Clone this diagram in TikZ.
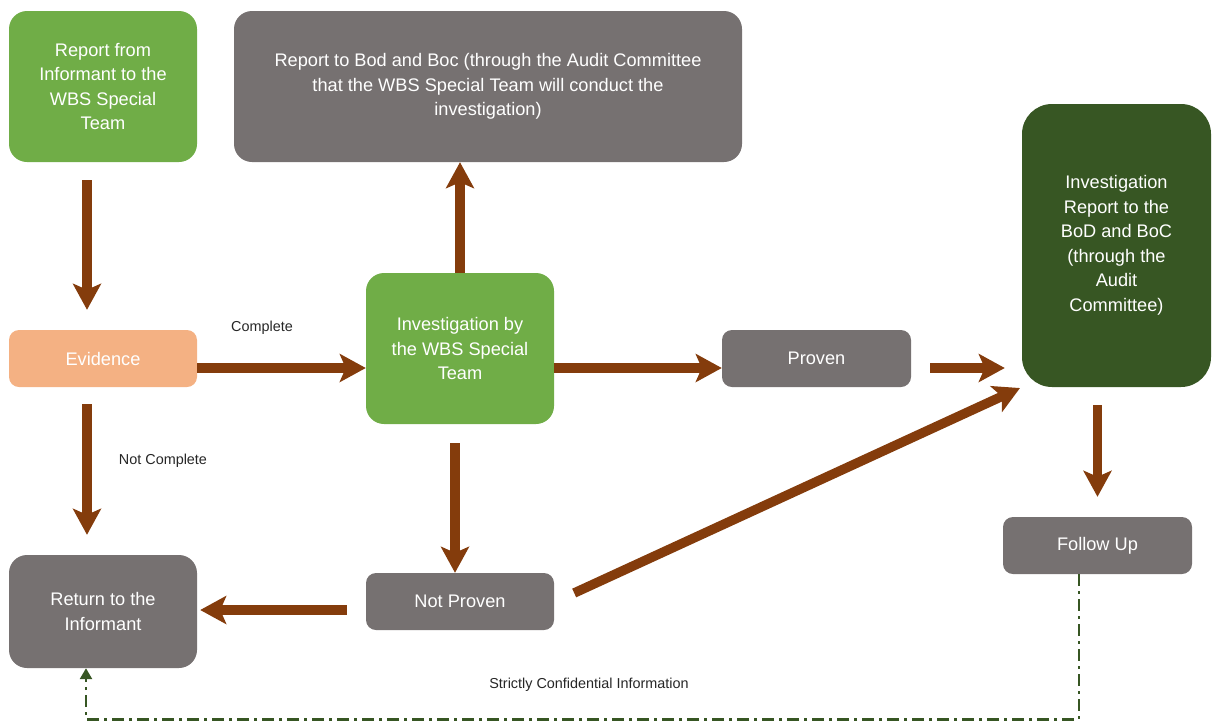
\documentclass[tikz,border=0pt]{standalone}
\usepackage{fontspec}
\setmainfont{Liberation Sans}
\usetikzlibrary{arrows.meta}
\definecolor{lgreen}{HTML}{70AD47}
\definecolor{dgreen}{HTML}{375623}
\definecolor{boxgray}{HTML}{767171}
\definecolor{peach}{HTML}{F4B183}
\definecolor{brown}{HTML}{843C0C}
\definecolor{lbl}{HTML}{262626}
\begin{document}
\begin{tikzpicture}[x=1pt,y=-1pt,
  box/.style={rectangle, rounded corners=18pt, text=white, align=center, inner sep=0pt,
    font=\fontsize{18.2}{24.5}\selectfont},
  sbox/.style={box, rounded corners=10pt},
  flow/.style={draw=brown, line width=9.5pt, -{Stealth[width=28pt,length=26pt,inset=6pt]}},
  conf/.style={draw=dgreen, line width=2.6pt, dash pattern=on 12pt off 5pt on 3pt off 5pt,
    -{Triangle[width=12pt,length=11pt]}},
  lab/.style={text=lbl, font=\fontsize{14.4}{16}\selectfont}]
\useasboundingbox (0,0) rectangle (1213,724);
% nodes
\node[box, fill=lgreen, minimum width=188pt, minimum height=151pt] (rep) at (103,86.5)
  {Report from\\Informant to the\\WBS Special\\Team};
\node[box, fill=boxgray, minimum width=508pt, minimum height=151pt] (bod) at (488,86.5)
  {Report to Bod and Boc (through the Audit Committee\\that the WBS Special Team will conduct the\\investigation)};
\node[sbox, fill=peach, minimum width=188pt, minimum height=57pt] (ev) at (103,358.5) {Evidence};
\node[box, fill=lgreen, minimum width=188pt, minimum height=151pt] (inv) at (460,348.5)
  {Investigation by\\the WBS Special\\Team};
\node[sbox, fill=boxgray, minimum width=189pt, minimum height=57pt] (pro) at (816.5,358.5) {Proven};
\node[box, rounded corners=30pt, fill=dgreen, minimum width=189pt, minimum height=283pt] (ir) at (1116.5,245.5)
  {Investigation\\Report to the\\BoD and BoC\\(through the\\Audit\\Committee)};
\node[sbox, fill=boxgray, minimum width=189pt, minimum height=57pt] (fu) at (1097.5,545.5) {Follow Up};
\node[sbox, fill=boxgray, minimum width=188pt, minimum height=57pt] (np) at (460,601.5) {Not Proven};
\node[box, fill=boxgray, minimum width=188pt, minimum height=113pt] (ret) at (103,611.5)
  {Return to the\\Informant};
% labels
\node[lab] (lc) at (262,328) {Complete};
\node[lab] (lnc) at (163,461) {Not Complete};
\node[lab] (lsc) at (589,685) {Strictly Confidential Information};
% connectors
\draw[flow, shorten <=18pt, shorten >=20pt] ([xshift=-16pt]rep.south) -- ([xshift=-16pt]ev.north);
\draw[flow] ([yshift=-9.5pt]ev.east) -- ([yshift=-19.5pt]inv.west);
\draw[flow] (inv.north) -- (inv.north |- bod.south);
\draw[flow] ([yshift=-19.5pt]inv.east) -- ([yshift=-9.5pt]pro.west);
\draw[flow, shorten <=19pt, shorten >=17pt] ([yshift=-9.5pt]pro.east) -- ([yshift=-122.5pt]ir.west);
\draw[flow, shorten <=17pt, shorten >=20pt] ([xshift=-16pt]ev.south) -- ([xshift=-16pt]ret.north);
\draw[flow, shorten <=19pt] ([xshift=-5pt]inv.south) -- ([xshift=-5pt]np.north);
\draw[flow, shorten <=19pt, shorten >=3pt] ([yshift=-8.5pt]np.west) -- ([yshift=1.5pt]ret.east);
\draw[flow, shorten >=2pt] ([shift={(20pt,8.5pt)}]np.east) -- (ir.south west);
\draw[flow, shorten <=18pt, shorten >=20pt] (fu.north |- ir.south) -- (fu.north);
\draw[conf] ([xshift=-18.5pt]fu.south) -- ++(0,145) -| ([xshift=-17pt]ret.south);
\end{tikzpicture}
\end{document}
